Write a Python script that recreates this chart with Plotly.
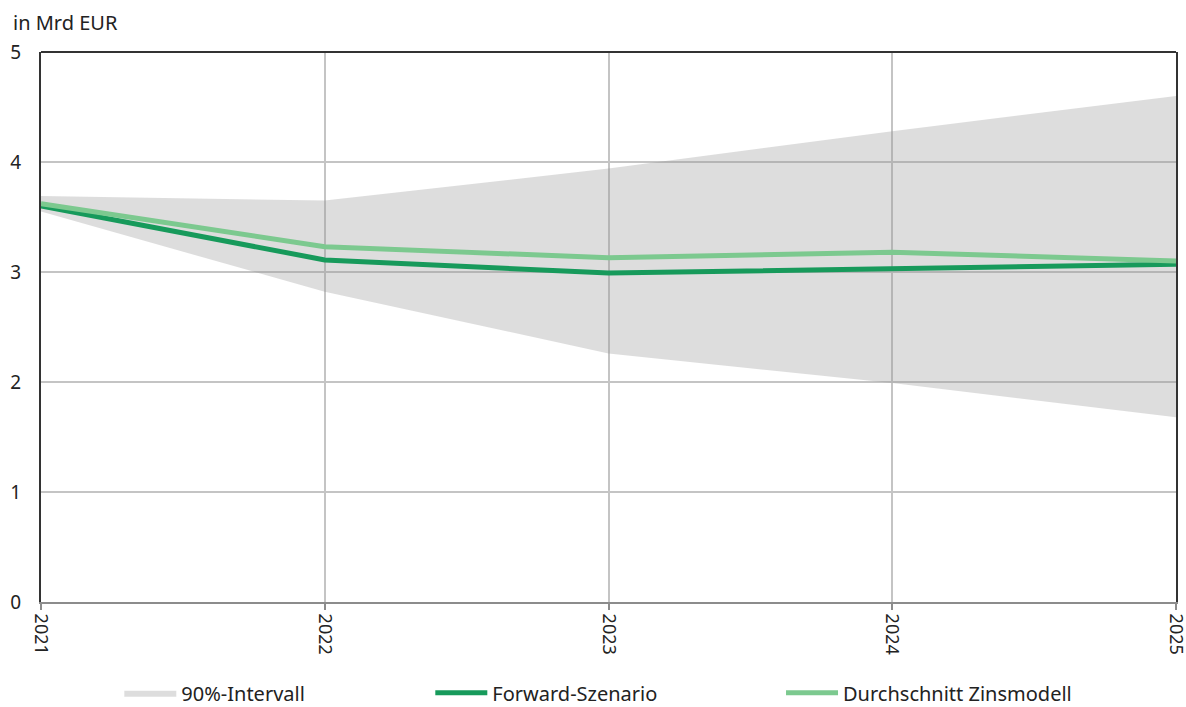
import plotly.graph_objects as go

years = [2021, 2022, 2023, 2024, 2025]
band_upper = [3.69, 3.65, 3.94, 4.28, 4.60]
band_lower = [3.55, 2.82, 2.26, 1.99, 1.68]
forward = [3.60, 3.11, 2.99, 3.03, 3.07]
durchschnitt = [3.62, 3.23, 3.13, 3.18, 3.10]
y_ticks = [0, 1, 2, 3, 4, 5]

FONT = "Noto Sans"
fig = go.Figure()

fig.add_trace(go.Scatter(x=years, y=band_lower, mode="lines", line=dict(width=0),
                         showlegend=False, hoverinfo="skip"))
fig.add_trace(go.Scatter(x=years, y=band_upper, mode="lines", line=dict(width=0),
                         fill="tonexty", fillcolor="rgba(150,150,150,0.32)",
                         name="90%-Intervall", legend="legend"))
fig.add_trace(go.Scatter(x=years, y=forward, mode="lines",
                         line=dict(color="#179A5B", width=5),
                         name="Forward-Szenario", legend="legend2"))
fig.add_trace(go.Scatter(x=years, y=durchschnitt, mode="lines",
                         line=dict(color="#7CC98F", width=5),
                         name="Durchschnitt Zinsmodell", legend="legend3"))

leg_common = dict(orientation="h", yanchor="middle", xanchor="left", y=-0.165,
                  font=dict(family=FONT, size=20, color="#222"),
                  itemwidth=52, bgcolor="rgba(0,0,0,0)", tracegroupgap=0)

fig.update_layout(
    width=1186, height=707,
    margin=dict(l=41, r=10, t=52, b=105, autoexpand=False),
    paper_bgcolor="white", plot_bgcolor="white",
    font=dict(family=FONT, size=18, color="#222"),
    legend=dict(x=0.069, **leg_common),
    legend2=dict(x=0.343, **leg_common),
    legend3=dict(x=0.652, **leg_common),
    xaxis=dict(range=[2021, 2025], tickvals=years, ticktext=[str(y) for y in years],
               tickangle=90, showgrid=True, gridcolor="#C4C4C4", gridwidth=2,
               showline=True, linecolor="#8C8C8C", linewidth=2, automargin=False,
               ticks="outside", ticklen=6, tickcolor="#8C8C8C", tickwidth=2,
               ticklabeloverflow="allow",
               zeroline=False, tickfont=dict(family=FONT, size=18, color="#222")),
    yaxis=dict(range=[0, 5], tickvals=y_ticks, showgrid=True, gridcolor="#C4C4C4",
               gridwidth=2, showline=True, linecolor="#333333", linewidth=2,
               mirror=True, zeroline=False, ticks="outside", ticklen=14, automargin=False,
               tickcolor="rgba(0,0,0,0)", tickfont=dict(family=FONT, size=19, color="#222")),
    shapes=[dict(type="line", xref="paper", yref="paper", x0=0, x1=1, y0=1, y1=1,
                 line=dict(color="#333333", width=2))],
    annotations=[dict(text="in Mrd EUR", xref="paper", yref="paper", x=-0.026, y=1.0,
                      xanchor="left", yanchor="bottom", yshift=14, showarrow=False,
                      font=dict(family=FONT, size=20, color="#222"))],
)

# remove the browser's default 8px body margin so the figure fills the window exactly
fig.write_html("out.html", config={"displayModeBar": False},
               post_script="document.body.style.margin='0px';")
